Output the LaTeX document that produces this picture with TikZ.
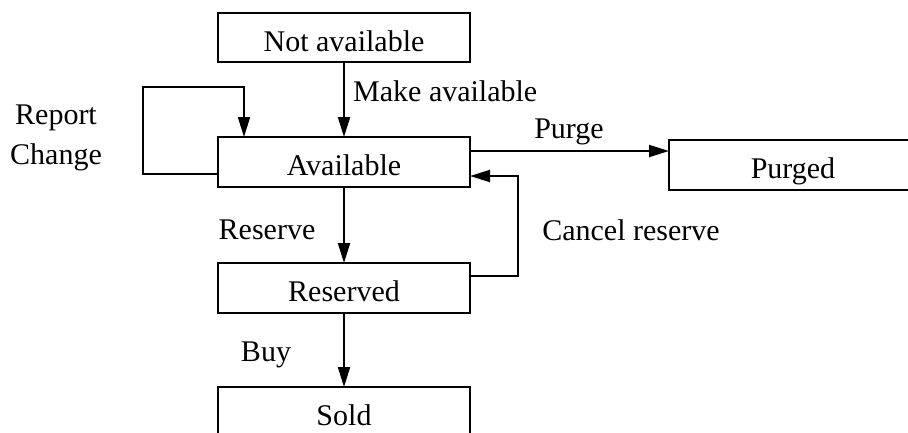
\documentclass[tikz,border=0pt]{standalone}
\usepackage{fontspec}
\setmainfont{Liberation Serif}
\usetikzlibrary{arrows.meta,calc}
\begin{document}
\begin{tikzpicture}[x=1pt,y=-1pt,
  state/.style={draw,line width=2pt,rectangle,inner sep=0pt,outer sep=0pt,text height=27pt,text depth=0pt},
  arr/.style={line width=2pt,-{Triangle[length=20pt,width=12pt]}},
  lbl/.style={inner sep=0pt},
  every node/.append style={font=\fontsize{30}{34}\selectfont}]
\useasboundingbox (0,0) rectangle (908,432);
\clip (0,0) rectangle (908,432);
\node[state,minimum width=252pt,minimum height=49pt] (na) at (344,37.5) {Not available};
\node[state,minimum width=252pt,minimum height=50pt] (av) at (344,162) {Available};
\node[state,minimum width=248pt,minimum height=50pt] (pu) at (793,165) {Purged};
\node[state,minimum width=252pt,minimum height=50pt] (rs) at (344,288) {Reserved};
\node[state,minimum width=252pt,minimum height=50pt] (sd) at (344,412) {Sold};
\coordinate (rc) at (143,87);
\draw[arr] (na.south) -- (av.north);
\draw[arr] ($(av.west)+(0,12)$) -| (rc) -| ($(av.north west)+(26,0)$);
\draw[arr] ($(av.east)+(0,-11)$) coordinate (p1) -- (p1 -| pu.west);
\draw[arr] ($(rs.east)+(0,-12)$) -- ++(48,0) |- ($(av.east)+(0,14)$);
\draw[arr] (av.south) -- (rs.north);
\draw[arr] (rs.south) -- (sd.north);
\node[lbl,anchor=west] (lma) at (353,91) {Make available};
\node[lbl] (lrep) at (56,118) {Report};
\node[lbl] (lch) at (56,157) {Change};
\node[lbl] (lpu) at (569,132) {Purge};
\node[lbl] (lcr) at (631,230) {Cancel reserve};
\node[lbl] (lre) at (267,230) {Reserve};
\node[lbl] (lbu) at (266,355) {Buy};
\end{tikzpicture}
\end{document}
